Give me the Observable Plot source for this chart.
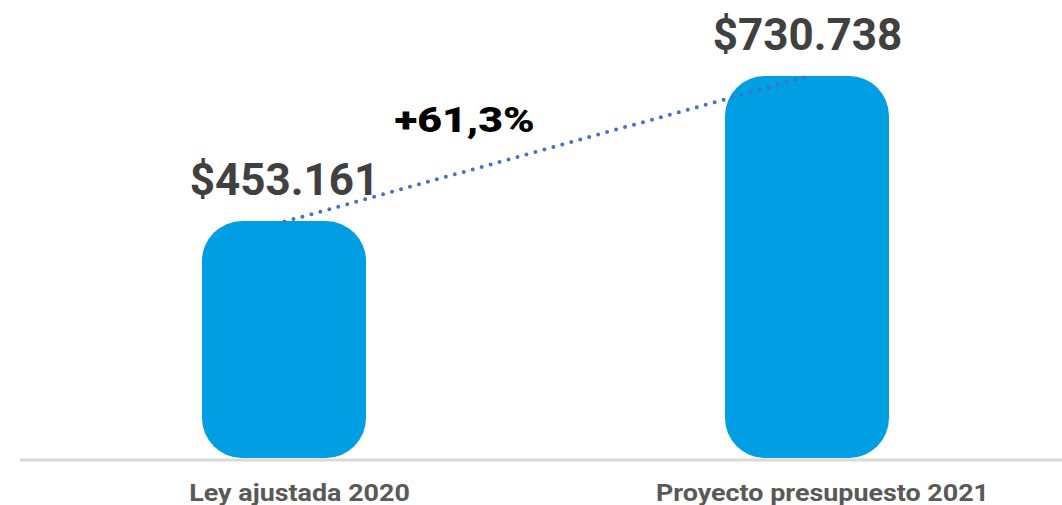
<!DOCTYPE html>
<html><head><meta charset="utf-8">
<script src="https://cdn.jsdelivr.net/npm/d3@7"></script>
<script src="https://cdn.jsdelivr.net/npm/@observablehq/plot@0.6"></script>
<style>
body{margin:0;background:#fff;}
svg{overflow:visible;}
</style>
</head><body><div id="chart"></div>
<script>
const categories = ["Ley ajustada 2020", "Proyecto presupuesto 2021"];
const values = [453161, 730738];
const valueLabels = ["$453.161", "$730.738"];
const changeLabel = "+61,3%";

const data = categories.map((c, i) => ({category: c, value: values[i], label: valueLabels[i]}));

const chart = Plot.plot({
  width: 1062,
  height: 505,
  marginLeft: 201,
  marginRight: 173,
  marginTop: 76,
  marginBottom: 47,
  style: {fontFamily: "Roboto", background: "#fff"},
  x: {domain: categories, paddingInner: 0.687, paddingOuter: 0, label: null, axis: null},
  y: {domain: [0, d3.max(values)], axis: null},
  marks: [
    Plot.ruleY([0], {stroke: "#d9d9d9", strokeWidth: 3, insetLeft: -181, insetRight: -173, dy: 1.5}),
    Plot.barY(data, {x: "category", y: "value", fill: "#009fe3", rx: 40}),
    Plot.lineY(data, {x: "category", y: "value", stroke: "#4472c4", strokeWidth: 4, strokeDasharray: "0 9.3", strokeLinecap: "round"}),
    Plot.text(data, {x: "category", y: "value", text: "label", lineAnchor: "bottom", dy: -27, fontSize: 44, fontWeight: "bold", fill: "#404040"}),
    Plot.text([changeLabel], {frameAnchor: "top-left", text: d => d, dx: 263, dy: 55, textAnchor: "middle", lineAnchor: "bottom", fontSize: 35, fontWeight: 900, fill: "#000"}),
    Plot.text(data, {x: "category", y: () => 0, text: "category", lineAnchor: "top", dx: 15, dy: 25, fontSize: 24, fontWeight: "bold", fill: "#595959"})
  ]
});
document.getElementById("chart").appendChild(chart);

// horizontal stretch for the change label and category labels
d3.select(chart).selectAll("text").each(function() {
  const t = this.textContent;
  let sx = null;
  if (t === changeLabel) sx = 1.22;
  else if (categories.includes(t)) sx = 1.12;
  if (sx) {
    const tr = this.getAttribute("transform") || "";
    this.setAttribute("transform", tr + ` scale(${sx},1)`);
  }
});
</script>
</body></html>
